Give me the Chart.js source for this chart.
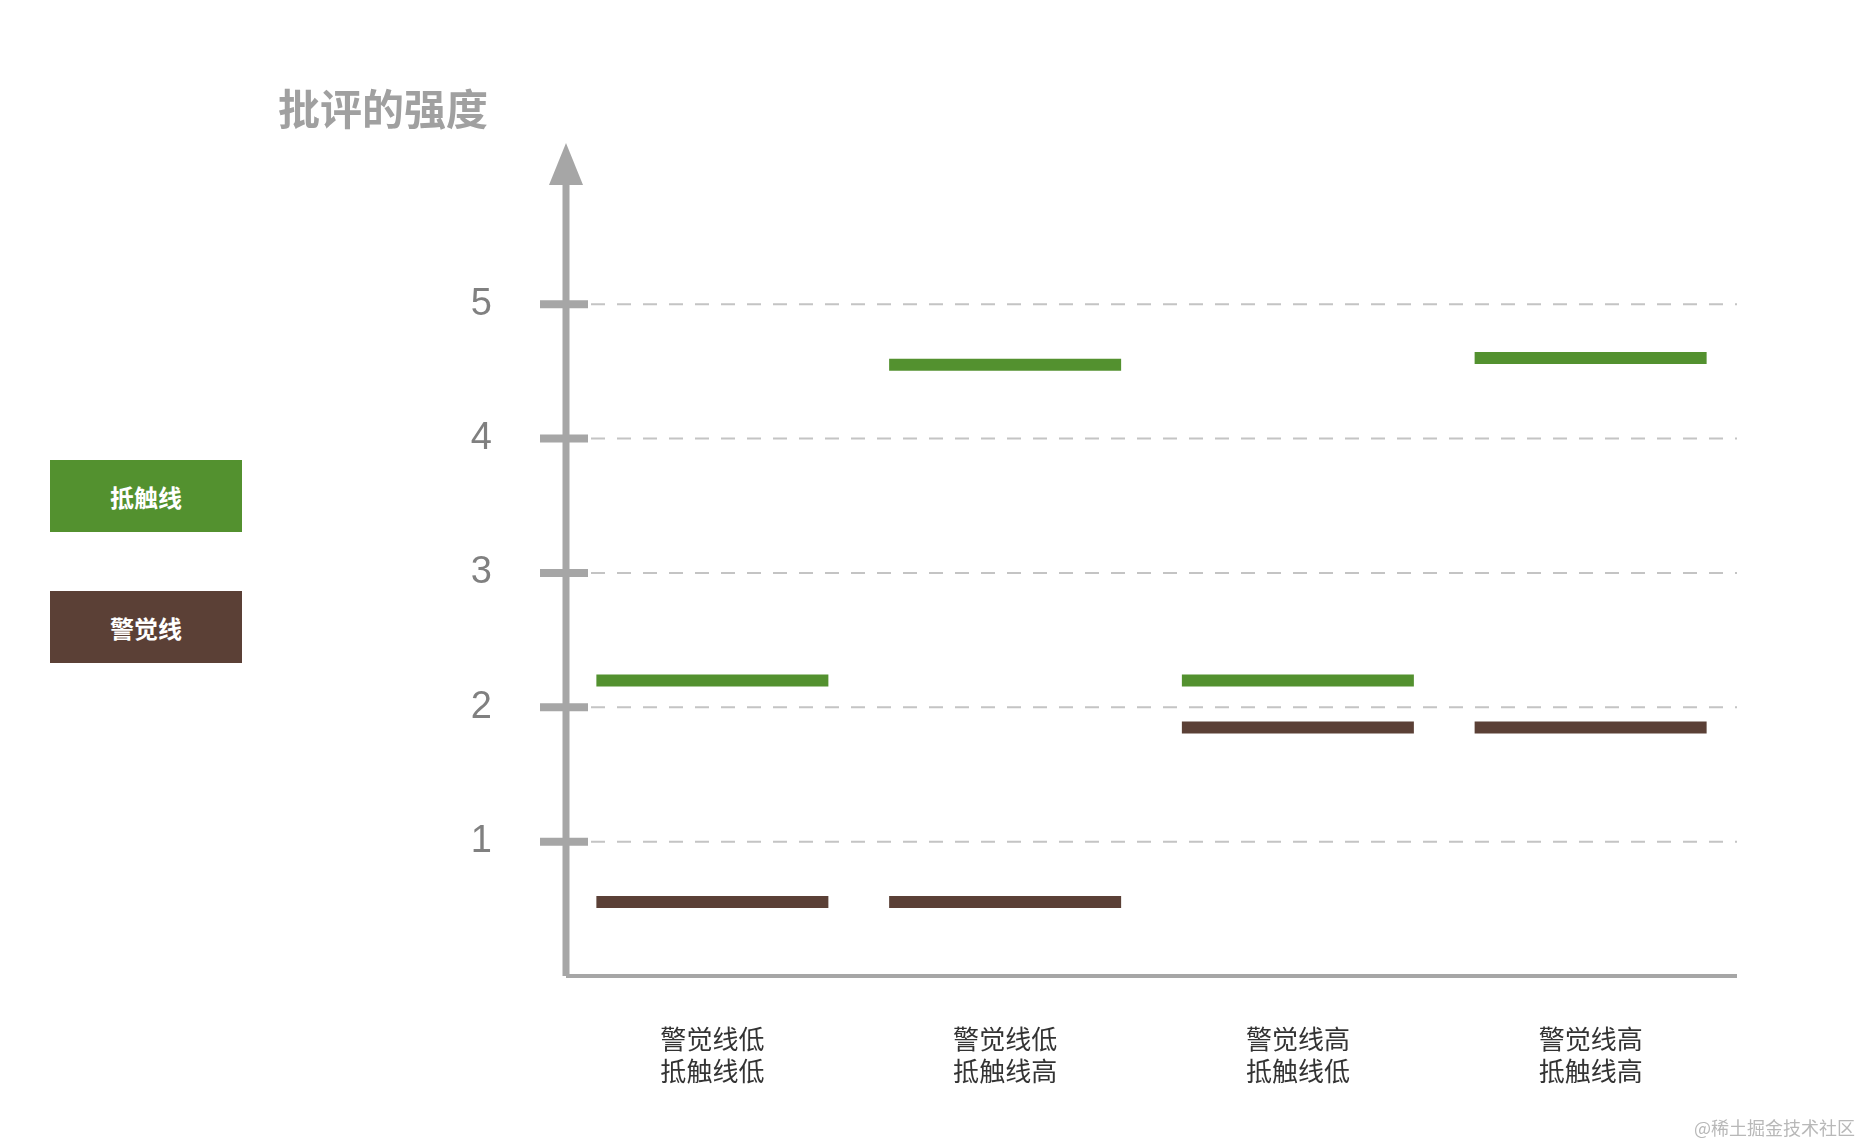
<!DOCTYPE html>
<html><head><meta charset="utf-8">
<script src="https://cdn.jsdelivr.net/npm/chart.js@4/dist/chart.umd.min.js"></script>
<style>
body{margin:0;background:#fff;font-family:"Noto Sans CJK SC",sans-serif;}
#wrap{position:relative;width:1865px;height:1144px;}
canvas{position:absolute;left:0;top:0;}
.t{position:absolute;font-weight:bold;}
.lg{position:absolute;left:50px;width:192px;height:72px;color:#fff;font-size:24px;font-weight:bold;display:flex;align-items:center;justify-content:center;}
</style></head><body>
<div id="wrap">
<canvas id="c" width="1865" height="1144"></canvas>
<div class="t" style="left:278px;top:76px;font-size:42px;color:#a0a0a0;">批评的强度</div>
<div class="lg" style="top:460px;background:#53912f;">抵触线</div>
<div class="lg" style="top:591px;background:#5b4036;">警觉线</div>
<div style="position:absolute;right:10px;top:1114px;font-size:18px;color:#b8b8b8;">@稀土掘金技术社区</div>
</div>
<script>
const categories=[["警觉线低","抵触线低"],["警觉线低","抵触线高"],["警觉线高","抵触线低"],["警觉线高","抵触线高"]];
const resistValues=[2.2,4.55,2.2,4.6];
const alertValues=[0.55,0.55,1.85,1.85];
const yTicks=[1,2,3,4,5];

const axisPlugin={id:'axisP',
 beforeDatasetsDraw(ch){
  const c=ch.ctx,a=ch.chartArea,y=ch.scales.y;
  c.save();c.strokeStyle='#c4c4c4';c.lineWidth=2;c.setLineDash([14,12]);
  yTicks.forEach(v=>{const py=y.getPixelForValue(v);c.beginPath();c.moveTo(a.left+25,py);c.lineTo(a.right,py);c.stroke();});
  c.restore();
 },
 afterDraw(ch){
 const c=ch.ctx,a=ch.chartArea,y=ch.scales.y;
 c.save();c.strokeStyle='#a6a6a6';c.fillStyle='#a6a6a6';
 c.lineWidth=7;c.beginPath();c.moveTo(a.left,a.bottom);c.lineTo(a.left,a.top+35);c.stroke();
 c.beginPath();c.moveTo(a.left-17,a.top+42);c.lineTo(a.left,a.top);c.lineTo(a.left+17,a.top+42);c.fill();
 c.lineWidth=4;c.beginPath();c.moveTo(a.left,a.bottom);c.lineTo(a.right,a.bottom);c.stroke();
 c.lineWidth=8;
 yTicks.forEach(v=>{const py=y.getPixelForValue(v);c.beginPath();c.moveTo(a.left-26,py);c.lineTo(a.left+22,py);c.stroke();});
 c.restore();
}};

new Chart(document.getElementById('c'),{
 type:'line',
 data:{labels:categories,datasets:[
  {data:resistValues,showLine:false,pointStyle:'line',pointRadius:116,pointHoverRadius:116,borderColor:'#53912f',borderWidth:12,pointBorderWidth:12},
  {data:alertValues,showLine:false,pointStyle:'line',pointRadius:116,pointHoverRadius:116,borderColor:'#5b4036',borderWidth:12,pointBorderWidth:12}
 ]},
 options:{responsive:false,animation:false,
  layout:{padding:{left:430,top:143,right:-15,bottom:0}},
  plugins:{legend:{display:false},tooltip:{enabled:false}},
  scales:{
   x:{offset:true,grid:{display:false},border:{display:false},
      ticks:{color:'#333',font:{size:26,family:'"Noto Sans CJK SC"'},padding:40},
      afterFit(s){s.height=168;}},
   y:{min:0,max:6.2,border:{display:false},
      afterBuildTicks(s){s.ticks=yTicks.map(v=>({value:v}));},
      afterFit(s){s.width=136;},
      grid:{display:false},
      ticks:{color:'#808080',font:{size:38,family:'"Liberation Sans"'},padding:66}}
  }},
 plugins:[axisPlugin]
});
</script>
</body></html>
